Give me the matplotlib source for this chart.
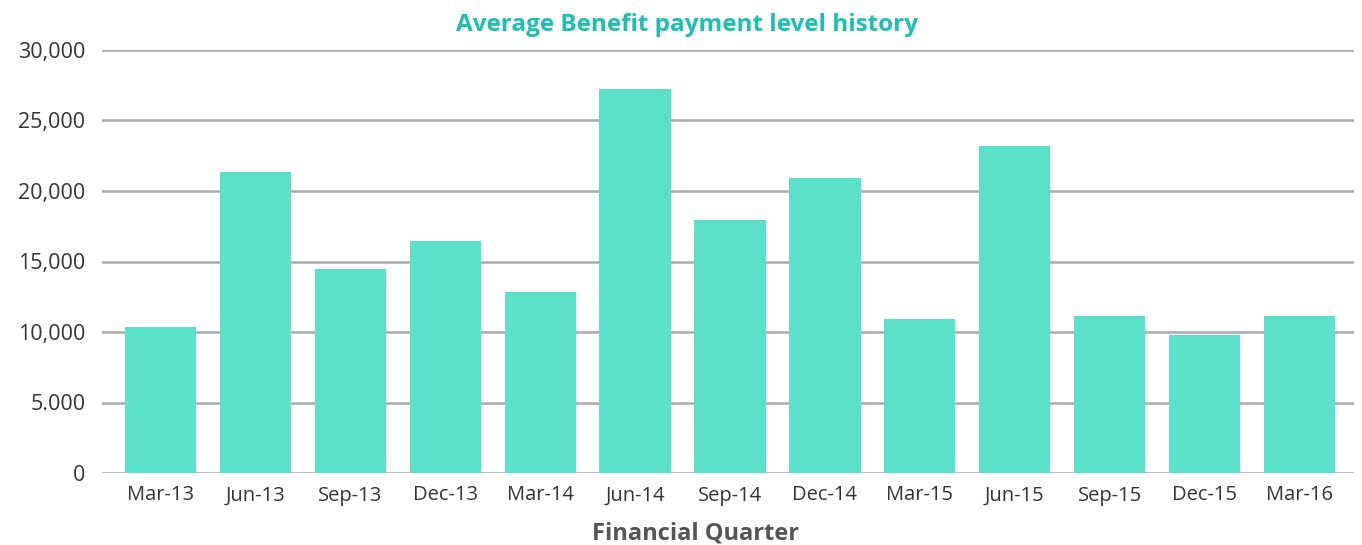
import matplotlib.pyplot as plt

plt.rcParams["font.family"] = ["Open Sans", "DejaVu Sans"]

quarters = ["Mar-13", "Jun-13", "Sep-13", "Dec-13", "Mar-14", "Jun-14", "Sep-14",
            "Dec-14", "Mar-15", "Jun-15", "Sep-15", "Dec-15", "Mar-16"]
payments = [10350, 21350, 14470, 16450, 12840, 27230, 17940,
            20920, 10920, 23190, 11130, 9790, 11130]
yticks = [0, 5000, 10000, 15000, 20000, 25000, 30000]
ytick_labels = ["0", "5.000", "10,000", "15,000", "20,000", "25,000", "30,000"]

fig = plt.figure(figsize=(13.62, 5.45), dpi=100)
ax = fig.add_axes([102 / 1362, 1 - 473 / 545, 1252 / 1362, 423 / 545])

x = range(len(quarters))
ax.bar(x, payments, width=0.75, color="#5ce1c9", zorder=3)

ax.set_xlim(-0.616, 12.574)
ax.set_ylim(0, 30000)
ax.set_yticks(yticks)
ax.set_yticklabels(ytick_labels)
ax.set_xticks(list(x))
ax.set_xticklabels(quarters)
ax.tick_params(axis="both", length=0, labelsize=14.5, colors="#333333")
ax.tick_params(axis="y", labelsize=15.5, pad=12)
ax.tick_params(axis="x", pad=9)

ax.grid(axis="y", color="#aaaaaa", linewidth=1.8, zorder=0)
for s in ax.spines.values():
    s.set_visible(False)

ax.set_title("Average Benefit payment level history", color="#1cc0ae",
             fontsize=17.5, fontweight="bold", x=0.467, pad=14)
ax.set_xlabel("Financial Quarter", color="#555555", fontsize=17,
              fontweight="bold")
ax.xaxis.set_label_coords(0.474, -0.115)

fig.savefig("out.png", dpi=100)
